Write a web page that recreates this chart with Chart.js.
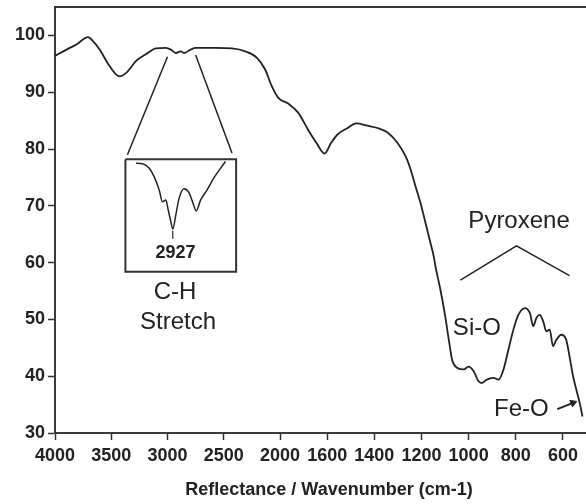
<!DOCTYPE html>
<html><head><meta charset="utf-8">
<script src="https://cdn.jsdelivr.net/npm/chart.js@4.4.1/dist/chart.umd.min.js"></script>
<style>
html,body{margin:0;padding:0;background:#fff;overflow:hidden;width:586px;height:504px;}
#wrap{width:608px;height:504px;}
canvas{display:block;}
</style></head><body>
<div id="wrap"><canvas id="c" width="608" height="504"></canvas></div>
<script>
// ---------------- data ----------------
const WAVENUMBER = [4000,3897,3809,3706,3662,3603,3515,3427,3367,3279,3191,3103,3015,2970,2926,2882,2853,2794,2750,2573,2427,2309,2207,2132,2074,2015,1930,1846,1762,1692,1622,1583,1555,1513,1478,1429,1386,1344,1302,1267,1246,1225,1204,1183,1162,1148,1141,1120,1099,1084,1070,1049,1021,1000,979,958,944,923,894,873,852,831,810,789,761,740,726,712,698,684,670,656,642,628,607,586,572,557,543,529,517];
const REFLECTANCE = [96.4,97.5,98.4,99.7,99.0,97.5,94.6,92.8,93.4,95.5,96.7,97.7,97.8,97.5,96.9,97.2,96.9,97.5,97.8,97.8,97.7,97.2,96.1,94.0,91.1,89.0,88.0,86.4,83.4,81.1,79.2,81.1,82.6,83.7,84.5,84.1,83.7,82.9,81.1,78.7,76.4,73.4,70.5,67.0,63.5,61.1,59.4,55.3,50.5,46.4,42.9,41.5,41.2,41.7,40.9,39.1,38.8,39.4,39.7,39.4,41.2,44.7,48.2,50.8,52.0,51.1,48.8,50.3,50.8,49.7,47.9,48.2,45.3,46.4,47.3,46.4,43.5,40.0,37.6,35.3,32.9];

// magnified C-H stretch inset, expressed in the main chart's axes
const INSET_WAVENUMBER = [3279,3221,3162,3118,3074,3045,3015,2992,2970,2953,2926,2897,2853,2809,2774,2745,2706,2648,2588,2529,2485];
const INSET_VALUE = [77.5,77.4,76.6,75.1,72.8,70.7,71.0,69.1,67.2,65.9,68.4,71.3,73.0,72.3,70.5,69.1,71.0,72.8,74.9,76.6,77.8];

const X_TICK_LABELS = [4000,3500,3000,2500,2000,1600,1400,1200,1000,800,600];
const Y_TICKS = [30,40,50,60,70,80,90,100];
const Y_MIN = 30, Y_MAX = 105, X_END_WAVENUMBER = 430;

// annotation anchors (wavenumber, value)
const INSET_BOX_W = [3374, 2390];
const INSET_BOX_V = [78.2, 58.4];
const ZOOM_LEFT_W = [3356, 3000],  ZOOM_LEFT_V = [79.0, 96.25];
const ZOOM_RIGHT_W = [2750, 2427], ZOOM_RIGHT_V = [96.55, 79.3];
const PEAK_MARK_W = [2953, 2953],  PEAK_MARK_V = [65.6, 64.2];
const PYROXENE_W = [1035, 797, 572], PYROXENE_V = [56.9, 62.95, 57.7];
const FEO_ARROW_W = [624, 557], FEO_ARROW_V = [34.2, 35.3];
const TEXT_LABELS = ['2927','C-H','Stretch','Pyroxene','Si-O','Fe-O'];
const TEXT_W = [2928, 2933, 2906, 786, 965, 776];
const TEXT_V = [61.7, 54.8, 49.4, 67.2, 48.5, 34.1];
const TEXT_BOLD = [true,false,false,false,false,false];

// ---------------- broken wavenumber axis ----------------
const GAP_WIDE = 1.193; // relative width of the 500-cm-1 gaps (above 2000)
const TICK_POS = [0];
for (let i = 1; i < X_TICK_LABELS.length; i++) {
  TICK_POS.push(TICK_POS[i-1] + (X_TICK_LABELS[i-1] > 2000 ? GAP_WIDE : 1));
}
function waveToAxis(w) {
  const T = X_TICK_LABELS, n = T.length;
  let i = 0;
  while (i < n - 2 && w < T[i+1]) i++;
  return TICK_POS[i] + (T[i] - w) / (T[i] - T[i+1]) * (TICK_POS[i+1] - TICK_POS[i]);
}
const pts = (W, V) => W.map((w, i) => ({x: waveToAxis(w), y: V[i]}));

const INK = '#222';
Chart.defaults.font.family = '"Liberation Sans", Arial, sans-serif';
Chart.defaults.color = INK;

const lineDs = (data, width, extra) => Object.assign({
  data, borderColor: INK, borderWidth: width, pointRadius: 0, fill: false, tension: 0
}, extra || {});

const boxW = [INSET_BOX_W[0], INSET_BOX_W[1], INSET_BOX_W[1], INSET_BOX_W[0], INSET_BOX_W[0]];
const boxV = [INSET_BOX_V[0], INSET_BOX_V[0], INSET_BOX_V[1], INSET_BOX_V[1], INSET_BOX_V[0]];

const framePlugin = {
  id: 'frame',
  afterDraw(chart) {
    const {ctx, chartArea: a, scales} = chart;
    ctx.save();
    ctx.strokeStyle = '#333';
    ctx.lineWidth = 2;
    ctx.beginPath();
    ctx.moveTo(a.left, a.top); ctx.lineTo(a.right, a.top); ctx.lineTo(a.right, a.bottom);
    ctx.stroke();
    ctx.fillStyle = INK;
    ctx.textAlign = 'center';
    ctx.textBaseline = 'middle';
    TEXT_LABELS.forEach((t, i) => {
      ctx.font = (TEXT_BOLD[i] ? 'bold 18px ' : '24px ') + '"Liberation Sans", Arial, sans-serif';
      ctx.fillText(t, scales.x.getPixelForValue(waveToAxis(TEXT_W[i])), scales.y.getPixelForValue(TEXT_V[i]));
    });
    ctx.restore();
  }
};

new Chart(document.getElementById('c'), {
  type: 'line',
  data: {
    datasets: [
      lineDs(pts(WAVENUMBER, REFLECTANCE), 1.8, {cubicInterpolationMode: 'monotone'}),
      lineDs(pts(INSET_WAVENUMBER, INSET_VALUE), 1.5, {cubicInterpolationMode: 'monotone'}),
      lineDs(pts(boxW, boxV), 2, {borderColor: '#333'}),
      lineDs(pts(ZOOM_LEFT_W, ZOOM_LEFT_V), 1.5),
      lineDs(pts(ZOOM_RIGHT_W, ZOOM_RIGHT_V), 1.5),
      lineDs(pts(PEAK_MARK_W, PEAK_MARK_V), 1.2),
      lineDs(pts(PYROXENE_W, PYROXENE_V), 1.5),
      lineDs(pts(FEO_ARROW_W, FEO_ARROW_V), 2, {
        pointRadius: [0, 4], pointStyle: 'triangle', rotation: 68,
        pointBackgroundColor: INK, pointBorderColor: INK, pointBorderWidth: 1
      })
    ]
  },
  options: {
    responsive: false,
    animation: false,
    events: [],
    layout: {padding: {top: 7, right: 1, left: 0, bottom: 0}},
    plugins: {legend: {display: false}, tooltip: {enabled: false}},
    scales: {
      x: {
        type: 'linear',
        min: 0,
        max: waveToAxis(X_END_WAVENUMBER),
        afterBuildTicks: s => { s.ticks = TICK_POS.map(v => ({value: v})); },
        afterFit: s => { s.height = 71; s.paddingLeft = 0; s.paddingRight = 0; },
        ticks: {
          autoSkip: false, maxRotation: 0, padding: 5,
          font: {size: 18, weight: 'bold'}, color: INK,
          callback: (v, i) => String(X_TICK_LABELS[i])
        },
        grid: {drawOnChartArea: false, drawTicks: true, tickLength: 7, tickColor: '#333', tickWidth: 1.5},
        border: {display: true, color: '#3a3a3a', width: 2},
        title: {
          display: true, text: 'Reflectance / Wavenumber (cm-1)',
          font: {size: 18, weight: 'bold'}, color: INK, padding: {top: 0, bottom: 3}
        }
      },
      y: {
        min: Y_MIN, max: Y_MAX,
        afterBuildTicks: s => { s.ticks = Y_TICKS.map(v => ({value: v})); },
        afterFit: s => { s.width = 55; s.paddingTop = 0; s.paddingBottom = 0; },
        ticks: {padding: 3, font: {size: 18, weight: 'bold'}, color: INK},
        grid: {drawOnChartArea: false, drawTicks: true, tickLength: 7, tickColor: '#333', tickWidth: 1.5},
        border: {display: true, color: '#3a3a3a', width: 2}
      }
    }
  },
  plugins: [framePlugin]
});
</script>
</body></html>
